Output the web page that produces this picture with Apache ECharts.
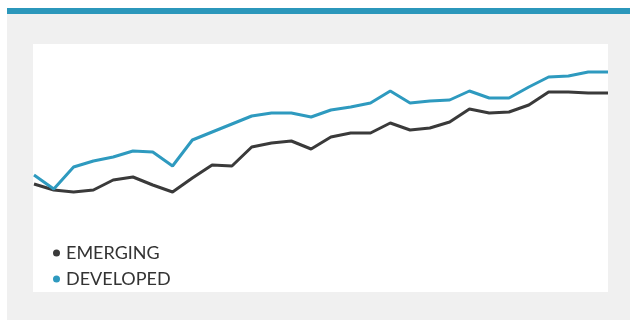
<!DOCTYPE html>
<html>
<head>
<meta charset="utf-8">
<script src="https://cdn.jsdelivr.net/npm/echarts@6/dist/echarts.min.js"></script>
<style>
  html, body { margin: 0; padding: 0; background: #fff; }
  #chart { width: 630px; height: 320px; }
</style>
</head>
<body>
<div id="chart"></div>
<script>
// periods (axis hidden in the original)
const periods = [
  'P1', 'P2', 'P3', 'P4', 'P5', 'P6', 'P7', 'P8', 'P9', 'P10',
  'P11', 'P12', 'P13', 'P14', 'P15', 'P16', 'P17', 'P18', 'P19', 'P20',
  'P21', 'P22', 'P23', 'P24', 'P25', 'P26', 'P27', 'P28', 'P29', 'P30'
];
const emerging = [
  100, 97, 96, 97, 102, 103.5, 99.5, 96, 103, 109.5,
  109, 118.5, 120.5, 121.5, 117.5, 123.5, 125.5, 125.5, 130.5, 127,
  128, 131, 137.5, 135.5, 136, 139.5, 146, 146, 145.5, 145.5
];
const developed = [
  104.5, 97.5, 108.5, 111.5, 113.5, 116.5, 116, 109, 122, 126,
  130, 134, 135.5, 135.5, 133.5, 137, 138.5, 140.5, 146.5, 140.5,
  141.5, 142, 146.5, 143, 143, 148.5, 153.5, 154, 156, 156
];

const myChart = echarts.init(document.getElementById('chart'));
const option = {
  animation: false,
  backgroundColor: '#ffffff',
  graphic: [
    // gray page background
    { type: 'rect', z: -10, shape: { x: 7, y: 14, width: 623, height: 306 }, style: { fill: '#f0f0f0' } },
    // blue header bar
    { type: 'rect', z: -10, shape: { x: 7, y: 8, width: 623, height: 6 }, style: { fill: '#2b97bb' } },
    // white chart panel
    { type: 'rect', z: -9, shape: { x: 33, y: 44, width: 575, height: 248 }, style: { fill: '#ffffff' } }
  ],
  legend: {
    orient: 'vertical',
    left: 48,
    top: 239,
    itemWidth: 7,
    itemHeight: 7,
    itemGap: 8,
    icon: 'circle',
    data: ['EMERGING', 'DEVELOPED'],
    textStyle: {
      fontFamily: 'Lato',
      fontSize: 18,
      color: '#333333',
      padding: [0, 0, 0, 1]
    }
  },
  grid: {
    left: 34,
    right: 22,
    top: 44,
    bottom: 28
  },
  xAxis: {
    type: 'category',
    data: periods,
    boundaryGap: false,
    show: false
  },
  yAxis: {
    type: 'value',
    min: 46,
    max: 170,
    show: false
  },
  series: [
    {
      name: 'EMERGING',
      type: 'line',
      data: emerging,
      symbol: 'none',
      lineStyle: { width: 3, color: '#3a3a3a' },
      itemStyle: { color: '#3a3a3a' }
    },
    {
      name: 'DEVELOPED',
      type: 'line',
      data: developed,
      symbol: 'none',
      lineStyle: { width: 3, color: '#2e9abf' },
      itemStyle: { color: '#2e9abf' }
    }
  ]
};
myChart.setOption(option, true);
</script>
</body>
</html>
